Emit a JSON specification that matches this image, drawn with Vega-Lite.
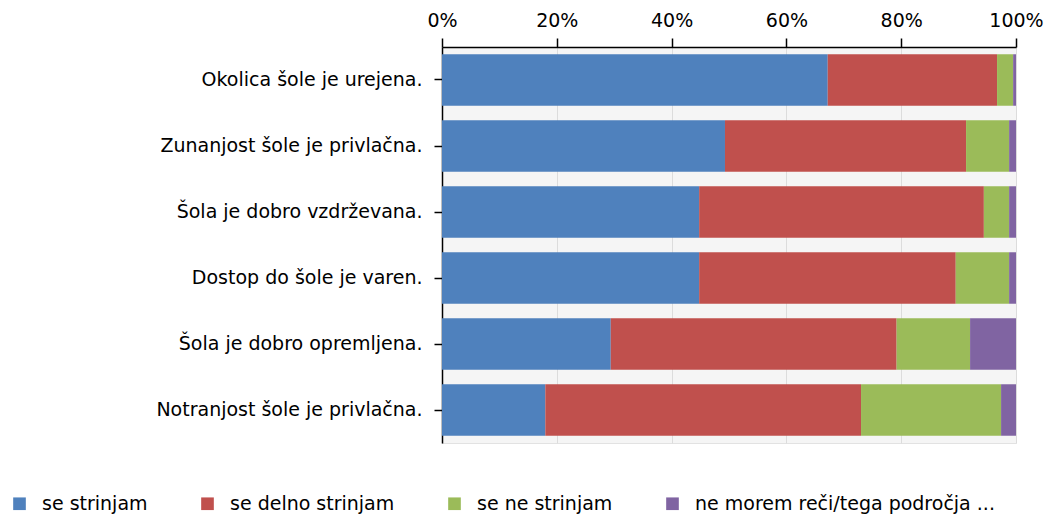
{
  "$schema": "https://vega.github.io/schema/vega-lite/v6.json",
  "width": 574,
  "height": 396,
  "autosize": "none",
  "padding": {"left": 442, "top": 47, "right": 31, "bottom": 73},
  "background": "white",
  "config": {
    "font": "DejaVu Sans",
    "view": {"fill": "#f5f5f5", "stroke": "#e2e2e2"}
  },
  "data": {
    "values": [
      {"item": "Okolica šole je urejena.", "resp": "se strinjam", "k": 1, "value": 67.2},
      {"item": "Okolica šole je urejena.", "resp": "se delno strinjam", "k": 2, "value": 29.5},
      {"item": "Okolica šole je urejena.", "resp": "se ne strinjam", "k": 3, "value": 2.8},
      {"item": "Okolica šole je urejena.", "resp": "ne morem reči/tega področja ...", "k": 4, "value": 0.5},
      {"item": "Zunanjost šole je privlačna.", "resp": "se strinjam", "k": 1, "value": 49.3},
      {"item": "Zunanjost šole je privlačna.", "resp": "se delno strinjam", "k": 2, "value": 42.0},
      {"item": "Zunanjost šole je privlačna.", "resp": "se ne strinjam", "k": 3, "value": 7.5},
      {"item": "Zunanjost šole je privlačna.", "resp": "ne morem reči/tega področja ...", "k": 4, "value": 1.2},
      {"item": "Šola je dobro vzdrževana.", "resp": "se strinjam", "k": 1, "value": 44.8},
      {"item": "Šola je dobro vzdrževana.", "resp": "se delno strinjam", "k": 2, "value": 49.6},
      {"item": "Šola je dobro vzdrževana.", "resp": "se ne strinjam", "k": 3, "value": 4.4},
      {"item": "Šola je dobro vzdrževana.", "resp": "ne morem reči/tega področja ...", "k": 4, "value": 1.2},
      {"item": "Dostop do šole je varen.", "resp": "se strinjam", "k": 1, "value": 44.8},
      {"item": "Dostop do šole je varen.", "resp": "se delno strinjam", "k": 2, "value": 44.7},
      {"item": "Dostop do šole je varen.", "resp": "se ne strinjam", "k": 3, "value": 9.3},
      {"item": "Dostop do šole je varen.", "resp": "ne morem reči/tega področja ...", "k": 4, "value": 1.2},
      {"item": "Šola je dobro opremljena.", "resp": "se strinjam", "k": 1, "value": 29.4},
      {"item": "Šola je dobro opremljena.", "resp": "se delno strinjam", "k": 2, "value": 49.8},
      {"item": "Šola je dobro opremljena.", "resp": "se ne strinjam", "k": 3, "value": 12.8},
      {"item": "Šola je dobro opremljena.", "resp": "ne morem reči/tega področja ...", "k": 4, "value": 8.0},
      {"item": "Notranjost šole je privlačna.", "resp": "se strinjam", "k": 1, "value": 18.0},
      {"item": "Notranjost šole je privlačna.", "resp": "se delno strinjam", "k": 2, "value": 55.0},
      {"item": "Notranjost šole je privlačna.", "resp": "se ne strinjam", "k": 3, "value": 24.4},
      {"item": "Notranjost šole je privlačna.", "resp": "ne morem reči/tega področja ...", "k": 4, "value": 2.6}
    ]
  },
  "mark": {"type": "bar"},
  "encoding": {
    "y": {
      "field": "item",
      "type": "nominal",
      "sort": ["Okolica šole je urejena.", "Zunanjost šole je privlačna.", "Šola je dobro vzdrževana.", "Dostop do šole je varen.", "Šola je dobro opremljena.", "Notranjost šole je privlačna."],
      "scale": {"paddingInner": 0.22, "paddingOuter": 0.11},
      "axis": {
        "title": null,
        "labelFontSize": 19,
        "labelColor": "#000000",
        "domainColor": "#000000",
        "domainWidth": 1.5,
        "tickColor": "#000000",
        "tickWidth": 1.5,
        "tickSize": 8,
        "labelPadding": 12,
        "labelLimit": 440,
        "grid": false
      }
    },
    "x": {
      "field": "value",
      "type": "quantitative",
      "stack": "normalize",
      "scale": {"domain": [0, 1], "nice": false},
      "axis": {
        "orient": "top",
        "title": null,
        "format": ".0%",
        "values": [0, 0.2, 0.4, 0.6, 0.8, 1],
        "tickSize": 9,
        "tickColor": "#000000",
        "tickWidth": 1.5,
        "domainColor": "#000000",
        "domainWidth": 1.5,
        "labelFontSize": 19,
        "labelColor": "#000000",
        "labelPadding": 8,
        "labelFlush": false,
        "grid": true,
        "gridColor": "#dcdcdc"
      }
    },
    "color": {
      "field": "resp",
      "type": "nominal",
      "scale": {
        "domain": ["se strinjam", "se delno strinjam", "se ne strinjam", "ne morem reči/tega področja ..."],
        "range": ["#4F81BD", "#C0504D", "#9BBB59", "#8064A2"]
      },
      "legend": {
        "title": null,
        "orient": "none",
        "direction": "horizontal",
        "legendX": -432,
        "legendY": 447,
        "symbolType": "square",
        "symbolSize": 160,
        "symbolStrokeWidth": 0,
        "symbolOpacity": 1,
        "labelFontSize": 19,
        "labelColor": "#000000",
        "labelOffset": 13,
        "labelLimit": 400,
        "columnPadding": 50
      }
    },
    "order": {"field": "k", "type": "quantitative"}
  }
}
